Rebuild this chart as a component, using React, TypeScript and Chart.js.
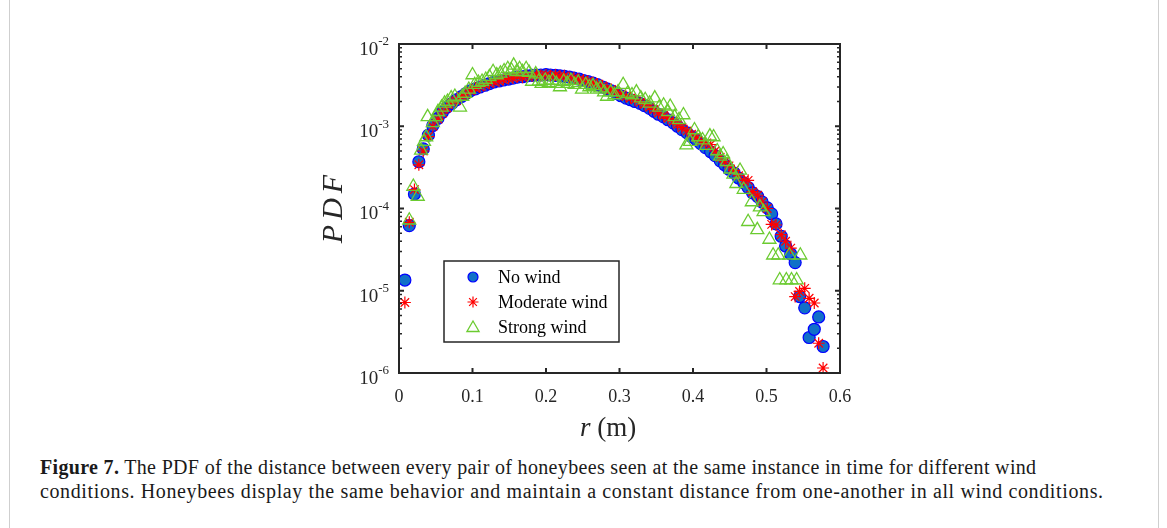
import React, { useEffect, useRef } from "react";
import { Chart, registerables } from "chart.js";

Chart.register(...registerables);

// ---------- data ----------
const binCenters = [
  0.008, 0.014, 0.021, 0.027, 0.033, 0.040, 0.046, 0.053, 0.059, 0.065,
  0.072, 0.078, 0.085, 0.091, 0.097, 0.104, 0.110, 0.117, 0.123, 0.129,
  0.136, 0.142, 0.149, 0.155, 0.161, 0.168, 0.174, 0.181, 0.187, 0.193,
  0.200, 0.206, 0.213, 0.219, 0.225, 0.232, 0.238, 0.245, 0.251, 0.257,
  0.264, 0.270, 0.277, 0.283, 0.289, 0.296, 0.302, 0.309, 0.315, 0.321,
  0.328, 0.334, 0.341, 0.347, 0.353, 0.360, 0.366, 0.373, 0.379, 0.385,
  0.392, 0.398, 0.405, 0.411, 0.417, 0.424, 0.430, 0.437, 0.443, 0.449,
  0.456, 0.462, 0.469, 0.475, 0.481, 0.488, 0.494, 0.501, 0.507, 0.513,
  0.520, 0.526, 0.533, 0.539, 0.545, 0.552, 0.558, 0.565, 0.571, 0.577,
];

const noWind = [
  1.35e-5, 6.2e-5, 1.5e-4, 3.7e-4, 5.3e-4, 7.8e-4, 1.02e-3, 1.25e-3, 1.48e-3, 1.7e-3,
  1.9e-3, 2.1e-3, 2.3e-3, 2.5e-3, 2.7e-3, 2.85e-3, 3.0e-3, 3.15e-3, 3.3e-3, 3.45e-3,
  3.55e-3, 3.65e-3, 3.75e-3, 3.85e-3, 3.95e-3, 4.0e-3, 4.1e-3, 4.15e-3, 4.2e-3, 4.2e-3,
  4.25e-3, 4.2e-3, 4.15e-3, 4.1e-3, 4.05e-3, 3.95e-3, 3.85e-3, 3.75e-3, 3.6e-3, 3.5e-3,
  3.35e-3, 3.2e-3, 3.0e-3, 2.85e-3, 2.7e-3, 2.5e-3, 2.35e-3, 2.2e-3, 2.1e-3, 2.0e-3,
  1.9e-3, 1.78e-3, 1.65e-3, 1.52e-3, 1.4e-3, 1.3e-3, 1.2e-3, 1.1e-3, 1.0e-3, 9.1e-4,
  8.3e-4, 7.5e-4, 6.8e-4, 6.1e-4, 5.5e-4, 4.9e-4, 4.4e-4, 3.8e-4, 3.4e-4, 3.0e-4,
  2.7e-4, 2.35e-4, 2.05e-4, 1.8e-4, 1.55e-4, 1.4e-4, 1.2e-4, 1.02e-4, 8.6e-5, 6.5e-5,
  4.6e-5, 3.5e-5, 2.8e-5, 2.2e-5, 8.5e-6, 6.2e-6, 2.7e-6, 3.4e-6, 4.8e-6, 2.1e-6,
];

const moderateWind = [
  7.2e-6, 6.8e-5, 1.7e-4, 3.4e-4, 5.0e-4, 7.5e-4, 1.0e-3, 1.22e-3, 1.45e-3, 1.68e-3,
  1.92e-3, 2.05e-3, 2.3e-3, 2.45e-3, 2.7e-3, 2.9e-3, 3.0e-3, 3.2e-3, 3.3e-3, 3.5e-3,
  3.55e-3, 3.7e-3, 3.8e-3, 3.85e-3, 4.0e-3, 3.95e-3, 4.1e-3, 4.1e-3, 4.2e-3, 4.15e-3,
  4.2e-3, 4.1e-3, 4.2e-3, 4.05e-3, 4.1e-3, 3.9e-3, 3.9e-3, 3.7e-3, 3.65e-3, 3.5e-3,
  3.4e-3, 3.25e-3, 3.1e-3, 2.9e-3, 2.8e-3, 2.6e-3, 2.45e-3, 2.3e-3, 2.2e-3, 2.1e-3,
  1.95e-3, 1.85e-3, 1.7e-3, 1.6e-3, 1.45e-3, 1.35e-3, 1.25e-3, 1.15e-3, 1.05e-3, 9.6e-4,
  8.8e-4, 8.0e-4, 7.3e-4, 6.6e-4, 6.2e-4, 6.0e-4, 5.0e-4, 4.2e-4, 3.7e-4, 3.3e-4,
  2.9e-4, 2.5e-4, 2.2e-4, 2.2e-4, 1.6e-4, 1.45e-4, 1.2e-4, 1.0e-4, 6.4e-5, 6.3e-5,
  4.8e-5, 4.0e-5, 3.3e-5, 8.5e-6, 9.8e-6, 1.07e-5, 8.1e-6, 7.1e-6, 2.3e-6, 1.15e-6,
];

const strongWindR = [
  0.014, 0.0195, 0.0255, 0.030, 0.034, 0.037, 0.039, 0.046, 0.050, 0.053,
  0.058, 0.062, 0.066, 0.071, 0.076, 0.083, 0.086, 0.090, 0.095, 0.100,
  0.103, 0.108, 0.113, 0.118, 0.123, 0.128, 0.133, 0.138, 0.143, 0.148,
  0.153, 0.156, 0.160, 0.164, 0.168, 0.173, 0.177, 0.181, 0.186, 0.190,
  0.194, 0.199, 0.204, 0.209, 0.214, 0.219, 0.224, 0.229, 0.234, 0.239,
  0.244, 0.249, 0.254, 0.259, 0.264, 0.269, 0.274, 0.279, 0.283, 0.288,
  0.293, 0.298, 0.305, 0.311, 0.317, 0.323, 0.329, 0.335, 0.341, 0.348,
  0.354, 0.360, 0.366, 0.369, 0.375, 0.381, 0.387, 0.391, 0.396, 0.402,
  0.407, 0.413, 0.418, 0.423, 0.428, 0.433, 0.437, 0.441, 0.446, 0.451,
  0.455, 0.459, 0.464, 0.469, 0.475, 0.480, 0.4875, 0.491, 0.496, 0.504,
  0.509, 0.516, 0.518, 0.527, 0.531, 0.534, 0.541, 0.546,
];

const strongWind = [
  7.2e-5, 1.85e-4, 1.4e-4, 5.1e-4, 6.5e-4, 7.4e-4, 1.3e-3, 1.1e-3, 1.3e-3, 1.5e-3,
  1.7e-3, 1.9e-3, 2.0e-3, 2.2e-3, 2.3e-3, 1.7e-3, 2.3e-3, 2.5e-3, 2.8e-3, 4.2e-3,
  3.2e-3, 3.4e-3, 3.5e-3, 3.7e-3, 4.0e-3, 4.6e-3, 4.2e-3, 4.4e-3, 4.7e-3, 5.0e-3,
  4.8e-3, 5.5e-3, 4.6e-3, 5.0e-3, 4.6e-3, 5.0e-3, 4.5e-3, 3.5e-3, 4.3e-3, 3.5e-3,
  3.3e-3, 3.6e-3, 3.4e-3, 3.6e-3, 3.3e-3, 3.0e-3, 3.5e-3, 3.3e-3, 3.6e-3, 3.2e-3,
  3.4e-3, 2.8e-3, 3.2e-3, 3.0e-3, 3.1e-3, 2.8e-3, 2.9e-3, 2.6e-3, 2.3e-3, 2.6e-3,
  2.4e-3, 2.6e-3, 3.2e-3, 2.5e-3, 2.4e-3, 2.6e-3, 2.2e-3, 2.1e-3, 1.9e-3, 2.2e-3,
  1.7e-3, 1.8e-3, 1.5e-3, 1.74e-3, 1.3e-3, 1.2e-3, 1.37e-3, 5.9e-4, 6.5e-4, 9.0e-4,
  7.4e-4, 6.8e-4, 5.8e-4, 7.6e-4, 7.4e-4, 5.0e-4, 4.3e-4, 4.6e-4, 3.7e-4, 3.0e-4,
  2.6e-4, 2.0e-4, 2.9e-4, 1.7e-4, 6.9e-5, 1.2e-4, 5.5e-5, 1.04e-4, 9.1e-5, 4.2e-5,
  2.7e-5, 2.7e-5, 1.35e-5, 1.35e-5, 2.7e-5, 1.35e-5, 1.35e-5, 2.7e-5,
];

const xTickValues = [0, 0.1, 0.2, 0.3, 0.4, 0.5, 0.6];
const xTickLabels = ["0", "0.1", "0.2", "0.3", "0.4", "0.5", "0.6"];
const yTickExponents = [-6, -5, -4, -3, -2];
const yTickExponentLabels = ["-6", "-5", "-4", "-3", "-2"];
const legendLabels = ["No wind", "Moderate wind", "Strong wind"];
const yAxisTitle = "PDF";
const xAxisTitleVar = "r";
const xAxisTitleUnit = "(m)";
const captionBold = "Figure 7.";
const captionLine1 =
  " The PDF of the distance between every pair of honeybees seen at the same instance in time for different wind";
const captionLine2 =
  "conditions. Honeybees display the same behavior and maintain a constant distance from one-another in all wind conditions.";

// ---------- styles ----------
const SERIF = '"Liberation Serif", "Times New Roman", serif';
const AXIS = "#262626";
const BLUE_FILL = "#1170C8";
const BLUE_EDGE = "#0000FF";
const RED = "#FF0000";
const GREEN = "#6BCB30";

const W = 1167;
const H = 445;
const PLOT = { left: 399, right: 840, top: 44, bottom: 373 };

const toPoints = (xs: number[], ys: number[]) => xs.map((x, i) => ({ x, y: ys[i] }));

function drawCircle(ctx: CanvasRenderingContext2D, x: number, y: number, r: number) {
  ctx.beginPath();
  ctx.arc(x, y, r, 0, Math.PI * 2);
  ctx.fillStyle = BLUE_FILL;
  ctx.fill();
  ctx.lineWidth = 1.2;
  ctx.strokeStyle = BLUE_EDGE;
  ctx.stroke();
}
function drawStar(ctx: CanvasRenderingContext2D, x: number, y: number, r: number) {
  ctx.beginPath();
  ctx.moveTo(x - r, y);
  ctx.lineTo(x + r, y);
  ctx.moveTo(x, y - r);
  ctx.lineTo(x, y + r);
  const d = r * Math.SQRT1_2;
  ctx.moveTo(x - d, y - d);
  ctx.lineTo(x + d, y + d);
  ctx.moveTo(x - d, y + d);
  ctx.lineTo(x + d, y - d);
  ctx.lineWidth = 1.2;
  ctx.strokeStyle = RED;
  ctx.stroke();
}
function drawTriangle(ctx: CanvasRenderingContext2D, x: number, y: number, r: number) {
  ctx.beginPath();
  for (let i = 0; i < 3; i++) {
    const a = (i * 2 * Math.PI) / 3;
    const px = x + Math.sin(a) * r;
    const py = y - Math.cos(a) * r;
    if (i === 0) ctx.moveTo(px, py);
    else ctx.lineTo(px, py);
  }
  ctx.closePath();
  ctx.lineWidth = 1.3;
  ctx.strokeStyle = GREEN;
  ctx.stroke();
}

const axesPlugin = {
  id: "matlabAxes",
  afterDatasetsDraw(chart: any) {
    const { ctx, chartArea: a, scales } = chart;
    const xs = scales.x;
    const ys = scales.y;
    ctx.save();

    // frame
    ctx.strokeStyle = AXIS;
    ctx.lineWidth = 2;
    ctx.strokeRect(a.left, a.top, a.right - a.left, a.bottom - a.top);

    // x ticks (inward, top & bottom)
    ctx.lineWidth = 2;
    ctx.beginPath();
    xTickValues.forEach((v) => {
      const px = xs.getPixelForValue(v);
      ctx.moveTo(px, a.bottom);
      ctx.lineTo(px, a.bottom - 5);
      ctx.moveTo(px, a.top);
      ctx.lineTo(px, a.top + 5);
    });
    ctx.stroke();

    // y ticks major + minor
    ctx.beginPath();
    yTickExponents.forEach((e) => {
      const py = ys.getPixelForValue(Math.pow(10, e));
      ctx.moveTo(a.left, py);
      ctx.lineTo(a.left + 5, py);
      ctx.moveTo(a.right, py);
      ctx.lineTo(a.right - 5, py);
    });
    ctx.stroke();
    ctx.lineWidth = 1.5;
    ctx.beginPath();
    yTickExponents.slice(0, -1).forEach((e) => {
      for (let m = 2; m <= 9; m++) {
        const py = ys.getPixelForValue(m * Math.pow(10, e));
        ctx.moveTo(a.left, py);
        ctx.lineTo(a.left + 3, py);
        ctx.moveTo(a.right, py);
        ctx.lineTo(a.right - 3, py);
      }
    });
    ctx.stroke();

    // x tick labels
    ctx.fillStyle = AXIS;
    ctx.font = `18px ${SERIF}`;
    ctx.textAlign = "center";
    ctx.textBaseline = "middle";
    xTickValues.forEach((v, i) => {
      ctx.fillText(xTickLabels[i], xs.getPixelForValue(v), a.bottom + 24);
    });

    // y tick labels 10^e
    yTickExponents.forEach((e, i) => {
      const py = ys.getPixelForValue(Math.pow(10, e));
      const sup = yTickExponentLabels[i];
      ctx.font = `13px ${SERIF}`;
      const supW = ctx.measureText(sup).width;
      const right = a.left - 10;
      ctx.textAlign = "left";
      ctx.fillText(sup, right - supW, py - 2);
      ctx.font = `19px ${SERIF}`;
      ctx.textAlign = "right";
      ctx.fillText("10", right - supW, py + 6);
    });

    // y axis title
    ctx.save();
    ctx.translate(334, (a.top + a.bottom) / 2);
    ctx.rotate(-Math.PI / 2);
    ctx.font = `italic 30px ${SERIF}`;
    (ctx as any).letterSpacing = "5px";
    ctx.textAlign = "center";
    ctx.textBaseline = "middle";
    ctx.fillText(yAxisTitle, 2, 0);
    ctx.restore();

    // x axis title
    ctx.font = `italic 27px ${SERIF}`;
    const rW = ctx.measureText(xAxisTitleVar + " ").width;
    ctx.font = `27px ${SERIF}`;
    const mW = ctx.measureText(xAxisTitleUnit).width;
    const startX = 608 - (rW + mW) / 2;
    ctx.textAlign = "left";
    ctx.textBaseline = "middle";
    ctx.font = `italic 27px ${SERIF}`;
    ctx.fillText(xAxisTitleVar, startX, 429);
    ctx.font = `27px ${SERIF}`;
    ctx.fillText(xAxisTitleUnit, startX + rW, 429);

    // legend box
    const lx = a.left + 45;
    const ly = a.top + 217;
    const lw = 175;
    const lh = 81;
    ctx.fillStyle = "#ffffff";
    ctx.fillRect(lx, ly, lw, lh);
    ctx.lineWidth = 1.5;
    ctx.strokeStyle = AXIS;
    ctx.strokeRect(lx, ly, lw, lh);
    const rows = [ly + 16, ly + 41, ly + 66];
    drawCircle(ctx, lx + 29, rows[0], 5);
    drawStar(ctx, lx + 29, rows[1], 5.5);
    drawTriangle(ctx, lx + 29, rows[2] + 1, 7);
    ctx.fillStyle = "#000000";
    ctx.font = `18px ${SERIF}`;
    ctx.textAlign = "left";
    ctx.textBaseline = "middle";
    legendLabels.forEach((t, i) => ctx.fillText(t, lx + 54, rows[i] + 1));

    ctx.restore();
  },
};

export default function App() {
  const ref = useRef<HTMLCanvasElement | null>(null);

  useEffect(() => {
    if (!ref.current) return;
    const chart = new Chart(ref.current, {
      type: "scatter",
      data: {
        datasets: [
          {
            label: legendLabels[0],
            data: toPoints(binCenters, noWind),
            pointStyle: "circle",
            pointRadius: 6,
            pointHoverRadius: 6,
            backgroundColor: BLUE_FILL,
            borderColor: BLUE_EDGE,
            borderWidth: 1.2,
            order: 3,
          },
          {
            label: legendLabels[1],
            data: toPoints(binCenters, moderateWind),
            pointStyle: "star",
            pointRadius: 6,
            pointHoverRadius: 6,
            backgroundColor: RED,
            borderColor: RED,
            borderWidth: 1.2,
            order: 2,
          },
          {
            label: legendLabels[2],
            data: toPoints(strongWindR, strongWind),
            pointStyle: "triangle",
            pointRadius: 7.5,
            pointHoverRadius: 7.5,
            backgroundColor: "rgba(0,0,0,0)",
            borderColor: GREEN,
            borderWidth: 1.3,
            order: 1,
          },
        ],
      },
      options: {
        responsive: false,
        animation: false,
        events: [],
        layout: {
          padding: {
            left: PLOT.left,
            right: W - PLOT.right,
            top: PLOT.top,
            bottom: H - PLOT.bottom,
          },
        },
        scales: {
          x: { type: "linear", min: 0, max: 0.6, display: false },
          y: { type: "logarithmic", min: 1e-6, max: 1e-2, display: false },
        },
        plugins: {
          legend: { display: false },
          tooltip: { enabled: false },
        },
      },
      plugins: [axesPlugin],
    });
    return () => chart.destroy();
  }, []);

  const captionStyle = {
    position: "absolute" as const,
    left: 40,
    fontFamily: SERIF,
    fontSize: 20,
    lineHeight: "24px",
    color: "#1a1a1a",
    whiteSpace: "nowrap" as const,
  };

  return (
    <div
      style={{
        position: "absolute",
        left: 0,
        top: 0,
        width: W,
        height: 528,
        background: "#ffffff",
        overflow: "hidden",
      }}
    >
      <div style={{ position: "absolute", left: 9, top: 0, width: 1, height: 528, background: "#cfcfcf" }} />
      <div style={{ position: "absolute", left: 1158, top: 0, width: 1, height: 528, background: "#cfcfcf" }} />
      <canvas
        ref={ref}
        width={W}
        height={H}
        style={{ position: "absolute", left: 0, top: 0, width: W, height: H }}
      />
      <div style={{ ...captionStyle, top: 455, letterSpacing: "0.33px" }}>
        <b>{captionBold}</b>
        {captionLine1}
      </div>
      <div style={{ ...captionStyle, top: 479, letterSpacing: "0.62px" }}>{captionLine2}</div>
    </div>
  );
}
